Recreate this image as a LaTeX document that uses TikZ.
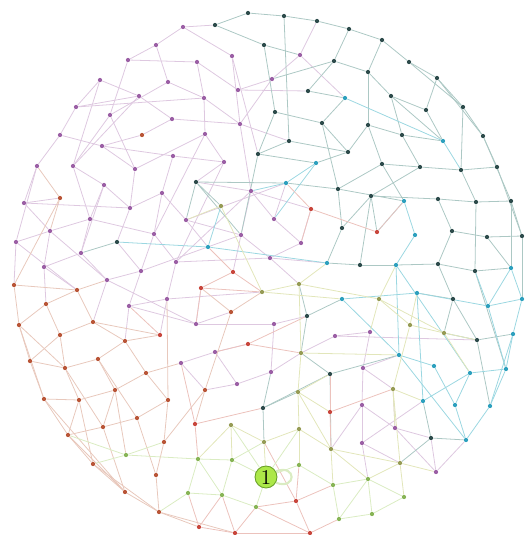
\documentclass[tikz,border=0pt]{standalone}
\usetikzlibrary{backgrounds}
\definecolor{puN}{RGB}{155,95,165}  \definecolor{puE}{RGB}{222,200,224}
\definecolor{dkN}{RGB}{45,75,75}    \definecolor{dkE}{RGB}{172,200,196}
\definecolor{cyN}{RGB}{45,160,190}  \definecolor{cyE}{RGB}{155,215,225}
\definecolor{orN}{RGB}{185,85,55}   \definecolor{orE}{RGB}{232,200,188}
\definecolor{rdN}{RGB}{200,70,60}   \definecolor{rdE}{RGB}{236,194,188}
\definecolor{olN}{RGB}{150,155,85}  \definecolor{olE}{RGB}{226,230,186}
\definecolor{grN}{RGB}{135,180,85}  \definecolor{grE}{RGB}{218,236,194}
\definecolor{hubF}{RGB}{172,232,72} \definecolor{hubD}{RGB}{105,160,40}
\begin{document}
\begin{tikzpicture}[x=0.02cm, y=-0.02cm,
    dot/.style={circle, inner sep=0pt, minimum size=0.085cm},
    pu/.style={dot, fill=puN}, dk/.style={dot, fill=dkN}, cy/.style={dot, fill=cyN},
    or/.style={dot, fill=orN}, rd/.style={dot, fill=rdN}, ol/.style={dot, fill=olN},
    gr/.style={dot, fill=grN},
    hub/.style={circle, fill=hubF, draw=hubD, line width=0.5pt, inner sep=0pt, minimum size=0.44cm, font=\large},
    lnk/.style={line width=0.45pt},
  ]
  \useasboundingbox (0,0) rectangle (526,535);
  % nodes, grouped by community
  \foreach \n/\x/\y in {a1/156/45, a2/128/60, a3/100/80, a4/168/82, a5/139/96, a6/76/107,
      a7/110/115, a8/172/119, a9/60/135, a10/102/146, a11/173/156, a12/37/166, a13/73/166,
      a14/135/169, a15/183/27, a16/232/56, a17/300/55, a18/197/62, a19/272/79, a20/238/90,
      a21/204/98, a22/240/124, a23/205/134, a24/224/162, a25/24/203, a26/104/185, a27/162/193,
      a28/130/208, a29/90/219, a30/50/231, a31/16/242, a32/154/234, a33/81/253, a34/44/267,
      a35/176/262, a36/141/271, a37/107/280, a38/167/299, a39/129/306, a40/251/191, a41/186/220,
      a42/274/219, a43/241/235, a44/301/243, a45/270/258, a46/196/324, a47/274/324, a48/335/336,
      a49/370/332, a50/215/352, a51/181/363, a52/271/372, a53/237/384, a54/363/368, a55/362/405,
      a56/395/428, a57/362/443, a58/436/472}
    \node[pu] (\n) at (\x,\y) {};
  \foreach \n/\x/\y in {d1/248/13, d2/284/16, d3/317/21, d4/215/25, d5/349/29, d6/264/45,
      d7/334/61, d8/308/91, d9/275/112, d10/322/123, d11/289/141, d12/258/154, d13/348/152,
      d14/382/40, d15/409/62, d16/368/72, d17/437/78, d18/391/96, d19/426/110, d20/463/107,
      d21/368/125, d22/402/135, d23/483/136, d24/382/164, d25/420/167, d26/461/170, d27/497/167,
      d28/117/242, d29/196/182, d30/338/189, d31/342/228, d32/307/316, d33/371/196, d34/438/199,
      d35/476/202, d36/511/201, d37/452/231, d38/487/237, d39/522/236, d40/360/265, d41/438/264,
      d42/475/271, d43/453/299, d44/477/340, d45/330/374, d46/263/408, d47/431/438}
    \node[dk] (\n) at (\x,\y) {};
  \foreach \n/\x/\y in {c1/345/98, c2/316/163, c3/443/141, c4/286/183, c5/208/247, c6/327/263,
      c7/342/299, c8/404/201, c9/415/235, c10/396/265, c11/511/268, c12/417/293, c13/522/299,
      c14/488/306, c15/513/334, c16/399/355, c17/434/366, c18/506/369, c19/470/373, c20/423/401,
      c21/455/405, c22/490/406, c23/466/440}
    \node[cy] (\n) at (\x,\y) {};
  \foreach \n/\x/\y in {o1/142/135, o2/60/198, o3/14/285, o4/77/290, o5/46/304, o6/93/322,
      o7/19/325, o8/60/335, o9/125/341, o10/231/312, o11/30/361, o12/98/359, o13/65/368,
      o14/146/373, o15/115/390, o16/44/399, o17/79/400, o18/168/400, o19/137/418, o20/103/427,
      o21/68/435, o22/164/442, o23/93/464, o24/156/475, o25/125/492, o26/159/512, o27/205/390}
    \node[or] (\n) at (\x,\y) {};
  \foreach \n/\x/\y in {r1/160/335, r2/311/209, r3/233/272, r4/201/288, r5/248/344, r6/377/232,
      r7/330/412, r8/195/424, r9/296/501, r10/199/527, r11/235/533, r12/310/533}
    \node[rd] (\n) at (\x,\y) {};
  \foreach \n/\x/\y in {l1/221/206, l2/299/284, l3/262/292, l4/379/299, l5/410/325, l6/444/333,
      l7/301/353, l8/298/392, l9/231/425, l10/299/429, l11/264/442, l12/331/449, l13/393/389,
      l14/400/463}
    \node[ol] (\n) at (\x,\y) {};
  \foreach \n/\x/\y in {g1/126/455, g2/198/459, g3/232/460, g4/299/465, g5/333/485, g6/188/493,
      g7/222/495, g8/256/507, g9/339/519, g10/368/479, g11/404/497, g12/372/514}
    \node[gr] (\n) at (\x,\y) {};
  \node[hub] (hub) at (266,477) {1};
  % links
  \begin{pgfonlayer}{background}
  \foreach \a/\b in {a1/a15, a1/a4, a1/a2, a2/a18, a2/a7, a3/a5, a3/a6, a5/a8, a5/a6, a4/a7,
      a4/a21, a6/a9, a9/a10, a10/a11, a9/a12, a7/a13, a7/a14, a8/o1, a8/a22, a10/o1, a11/a24,
      a11/a27, a12/a25, a12/a31, a13/a26, a13/a29, a14/a23, a14/a28, a15/a16, a15/d4, a16/a22,
      a16/d12, a17/a19, a17/c1, a17/d3, a18/a20, a18/a21, a19/a20, a19/a22, a20/d8, a21/a23,
      a21/a22, a22/d11, a23/a24, a23/a32, a24/d29, a24/a35, a25/a30, a25/o2, a26/a28, a26/a29,
      a26/a33, a27/a32, a27/a28, a27/a41, a28/d28, a29/a33, a29/a30, a30/a31, a30/a34, a31/o3,
      a32/a36, a32/a35, a33/a37, a33/a34, a34/o5, a34/o4, a35/a38, a35/a40, a36/a37, a36/a39,
      a36/d28, a37/o6, a38/a39, a38/r1, a39/o9, a40/a42, a40/a43, a40/d29, a41/a43, a41/c5,
      a42/a44, a42/c4, a43/a45, a43/r3, a44/a45, a44/r2, a45/l2, a45/c6, a46/a47, a46/o10,
      a46/r4, a47/d32, a47/a52, a48/a49, a48/d44, a49/a54, a50/a51, a50/a53, a50/r5, a51/o27,
      a52/a53, a52/l7, a53/o27, a54/a55, a54/c16, a55/a57, a55/a56, a56/d47, a56/l13, a57/g10,
      a58/a56, a58/d47, a3/a13, a10/a14,
      a6/a21, a13/a5, a25/a28, a29/a32, a30/a37, a31/o4, a37/a46, a39/a46, a38/l3, a36/a43,
      a35/a45, a41/c4, a40/r2, a22/a40, a48/l7, a54/l13, a55/l12, a57/l14, a57/c20, a58/c23}
    \draw[lnk, puE] (\a) -- (\b);
  \foreach \a/\b in {d1/d2, d1/d4, d2/d3, d2/d11, d3/d5, d4/d6, d5/d7, d5/d14, d6/d9, d7/d8,
      d7/d16, d8/c1, d9/d10, d9/d12, d10/d13, d10/c1, d11/d12, d11/d13, d13/c2, d13/d21,
      d14/d15, d15/d17, d14/d16, d16/d18, d16/d21, d17/d19, d17/d20, d18/d19, d18/d22, d18/c3,
      d19/c3, d20/d23, d20/d26, d21/d22, d21/d24, d22/d25, d22/c3, d23/d27, d23/d36, d24/d25,
      d24/d30, d25/d26, d25/d33, d26/d27, d26/d35, d27/d39, d28/a33, d29/a41, d29/l1, d29/c4,
      d30/c4, d30/d31, d30/c8, d31/c6, d31/d33, d32/c7, d32/l2, d32/l7, d33/d34, d33/d40,
      d33/r6, d34/d35, d34/d37, d35/d36, d35/d42, d36/d39, d37/d38, d37/d41, d38/d39, d38/c11,
      d39/c13, d40/c10, d40/c6, d41/d42, d41/c10, d42/c11, d43/d41, d43/c12, d43/l6, d44/d43,
      d44/l6, d44/c15, d45/l7, d45/l12, d45/c16, d46/l8, d46/l11, d46/a52, d46/d45, d47/c20,
      d47/c23, d47/l14, d12/c2, d6/a17, d7/a19,
      d12/a43, d29/a43, d10/d30, d24/c8, d15/d20, d17/d23, d42/c18, d36/c11, d44/c22}
    \draw[lnk, dkE] (\a) -- (\b);
  \foreach \a/\b in {c1/c3, c2/c4, c3/d26, c4/a40, c5/d28, c5/l1, c5/c6, c7/c12, c8/c9, c8/r6,
      c9/c10, c10/c16, c12/c20, c11/c13, c13/c15, c14/c18, c14/d42, c15/c18, c16/c17, c17/c21,
      c18/c22, c19/c20, c19/c21, c21/c23, c22/c23, c16/c23, c18/c19, c12/c14,
      c2/a42, c11/c14, c13/c14, c15/c22, c10/c19, c7/c16}
    \draw[lnk, cyE] (\a) -- (\b);
  \foreach \a/\b in {o2/a30, o2/a12, o3/o7, o3/o4, o4/o5, o4/a37, o4/o6, o5/o7, o5/o8, o6/o9,
      o6/o8, o6/r1, o7/o11, o8/o11, o8/o13, o9/o12, o9/o14, o9/r1, o10/r4, o10/o27, o10/l3,
      o11/o13, o11/o16, o12/o13, o12/o15, o13/o17, o14/o15, o14/o18, o14/a51, o15/o17, o15/o20,
      o16/o21, o16/o17, o17/o21, o18/o19, o18/o22, o19/o20, o19/o24, o20/o21, o21/o23, o22/o24,
      o22/o27, o23/o25, o24/o26, o25/o26, o26/r10, o27/r8, o2/o3,
      o7/o13, o16/o25, o13/o20, o12/o19, o17/o23, o15/g1, o18/a38, o20/o25, o7/o16, o21/o25,
      o23/o26, o26/r11}
    \draw[lnk, orE] (\a) -- (\b);
  \foreach \a/\b in {r1/a39, r2/c4, r2/r6, r2/a44, r3/r4, r3/l3, r3/c5, r4/a46, r5/a50, r5/l7,
      r5/d32, r6/c8, r7/l12, r7/d45, r7/l13, r8/g2, r8/a51, r8/d46, r9/g4, r9/g8, r9/r12, r9/g5,
      r10/g6, r10/r11, r11/g8, r11/r12, r12/g9, r4/l3, r10/g7, r11/g7, r12/g8, r9/l11}
    \draw[lnk, rdE] (\a) -- (\b);
  \foreach \a/\b in {l1/a41, l1/l3, l2/l4, l2/l3, l3/c7, l4/l5, l4/c10, l4/a49, l5/l6, l5/c12,
      l5/l13, l6/d44, l7/l8, l7/c16, l8/l10, l8/d45, l9/l11, l9/g3, l9/g2, l10/l11, l10/l12,
      l10/g4, l11/hub, l12/g5, l12/l14, l13/l14, l13/a56, l14/g10, l14/g11,
      l4/l6, l6/c19, l2/l7, l2/c6, l13/c20, l12/g10, l8/l12, l8/r7, l14/a58}
    \draw[lnk, olE] (\a) -- (\b);
  \foreach \a/\b in {g1/o21, g1/o23, g1/o22, g1/g2, g2/g3, g2/g6, g3/hub, g3/g7, g4/hub, g4/g5,
      g5/g9, g6/g7, g7/g8, g8/hub, g9/g12, g10/g11, g10/g12, g11/g12, g9/g10, hub/l10,
      g3/l11, g2/g7, g6/o26, g5/g10, hub/l9}
    \draw[lnk, grE] (\a) -- (\b);
  \end{pgfonlayer}
  \draw[grE, line width=1.2pt] (hub.30) to[out=20, in=-20, looseness=5] (hub.-30);
\end{tikzpicture}
\end{document}
